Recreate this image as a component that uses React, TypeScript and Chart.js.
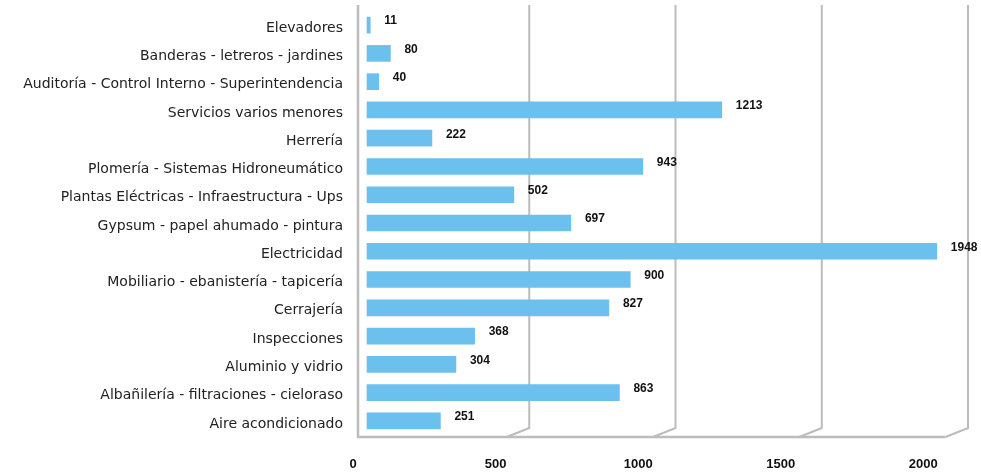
import React, { useEffect, useRef } from "react";
import { Chart, registerables } from "chart.js";

Chart.register(...registerables);

const categories = [
  "Elevadores",
  "Banderas - letreros - jardines",
  "Auditoría - Control Interno - Superintendencia",
  "Servicios varios menores",
  "Herrería",
  "Plomería - Sistemas Hidroneumático",
  "Plantas Eléctricas - Infraestructura - Ups",
  "Gypsum - papel ahumado - pintura",
  "Electricidad",
  "Mobiliario - ebanistería - tapicería",
  "Cerrajería",
  "Inspecciones",
  "Aluminio y vidrio",
  "Albañilería - filtraciones - cieloraso",
  "Aire acondicionado",
];

const values = [11, 80, 40, 1213, 222, 943, 502, 697, 1948, 900, 827, 368, 304, 863, 251];

const tickValues = [0, 500, 1000, 1500, 2000];

const BAR_COLOR = "#6cc0ee";
const WALL_COLOR = "#bcbcbc";

const wallPlugin = {
  id: "walls",
  beforeDatasetsDraw(chart: any) {
    const { ctx, chartArea } = chart;
    const xs = chart.scales.x;
    const front = (v: number) => xs.getPixelForValue(v) - 6.5;
    const back = (v: number) => xs.getPixelForValue(v) + 16;
    const top = chartArea.top - 6;
    const frontBottom = chartArea.bottom + 2;
    const backBottom = frontBottom - 9;
    ctx.save();
    ctx.strokeStyle = WALL_COLOR;
    ctx.lineJoin = "miter";
    ctx.lineWidth = 2;
    ctx.beginPath();
    for (const v of tickValues.slice(1)) {
      ctx.moveTo(back(v), top);
      ctx.lineTo(back(v), backBottom);
      ctx.lineTo(front(v), frontBottom);
    }
    ctx.stroke();
    const leftX = xs.getPixelForValue(0) - 9;
    ctx.lineWidth = 2.5;
    ctx.beginPath();
    ctx.moveTo(leftX, top);
    ctx.lineTo(leftX, frontBottom);
    ctx.lineTo(front(tickValues[tickValues.length - 1]), frontBottom);
    ctx.stroke();
    ctx.restore();
  },
};

const valueLabelPlugin = {
  id: "valueLabels",
  afterDatasetsDraw(chart: any) {
    const { ctx } = chart;
    const meta = chart.getDatasetMeta(0);
    ctx.save();
    ctx.font = "bold 12px 'Liberation Sans', Arial, sans-serif";
    ctx.fillStyle = "#111";
    ctx.textAlign = "left";
    ctx.textBaseline = "middle";
    meta.data.forEach((bar: any, i: number) => {
      ctx.fillText(String(values[i]), bar.x + 14, bar.y - 4);
    });
    ctx.restore();
  },
};

export default function App() {
  const ref = useRef<HTMLCanvasElement | null>(null);

  useEffect(() => {
    if (!ref.current) return;
    const chart = new Chart(ref.current, {
      type: "bar",
      data: {
        labels: categories,
        datasets: [
          {
            data: values,
            backgroundColor: BAR_COLOR,
            borderWidth: 0,
            barThickness: 16,
            xAxisID: "x",
            yAxisID: "y",
          },
        ],
      },
      options: {
        indexAxis: "y",
        animation: false,
        responsive: true,
        maintainAspectRatio: false,
        layout: { padding: { top: 11, right: 6, bottom: 0, left: 0 } },
        plugins: {
          legend: { display: false },
          tooltip: { enabled: false },
        },
        scales: {
          x: {
            type: "linear",
            display: false,
            min: -34.2,
            max: 2078.6,
          },
          xl: {
            type: "linear",
            position: "bottom",
            min: 13.3,
            max: 2181.7,
            grid: { display: false, drawTicks: false },
            border: { display: false },
            afterBuildTicks: (s: any) => {
              s.ticks = tickValues.map((v) => ({ value: v }));
            },
            ticks: {
              autoSkip: false,
              maxRotation: 0,
              padding: 22,
              color: "#111",
              font: { family: "'Liberation Sans', Arial, sans-serif", size: 13, weight: "bold" },
              callback: (v: any) => String(v),
            },
            afterFit: (s: any) => {
              s.height = 40;
              s.paddingLeft = 0;
              s.paddingRight = 0;
            },
          },
          y: {
            type: "category",
            grid: { display: false, drawTicks: false },
            border: { display: false },
            ticks: {
              padding: 14,
              labelOffset: 3,
              color: "#222",
              font: { family: "'DejaVu Sans', sans-serif", size: 14 },
            },
            afterFit: (s: any) => {
              s.width = 357;
              s.paddingTop = 0;
              s.paddingBottom = 0;
            },
          },
        },
      },
      plugins: [wallPlugin, valueLabelPlugin],
    });
    return () => chart.destroy();
  }, []);

  return (
    <div style={{ position: "absolute", left: 0, top: 0, width: 981, height: 475, background: "#fff" }}>
      <canvas ref={ref} />
    </div>
  );
}
